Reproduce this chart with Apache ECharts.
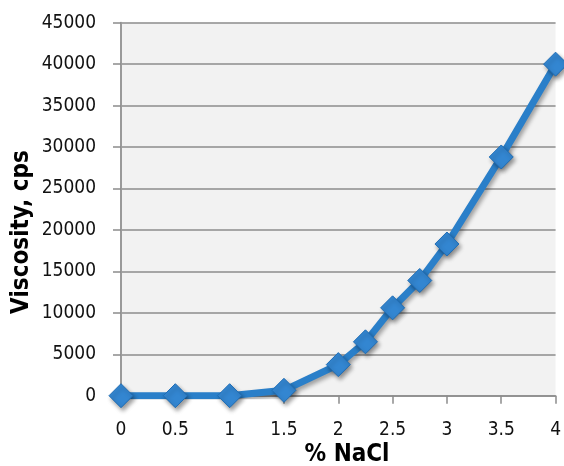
<!DOCTYPE html>
<html>
<head>
<meta charset="utf-8">
<script src="https://cdn.jsdelivr.net/npm/echarts@6/dist/echarts.min.js"></script>
<style>
html,body{margin:0;padding:0;background:#fff;}
#c{width:564px;height:466px;}
</style>
</head>
<body>
<div id="c"></div>
<script>
var naclPercent = [0, 0.5, 1, 1.5, 2, 2.25, 2.5, 2.75, 3, 3.5, 4];
var viscosity = [0, 0, 0, 650, 3750, 6500, 10600, 13900, 18300, 28800, 40000];
var xTitle = '% NaCl';
var yTitle = 'Viscosity, cps';

var FONT = '"DejaVu Sans Condensed", "Liberation Sans", sans-serif';
var points = naclPercent.map(function (x, i) { return [x, viscosity[i]]; });

var chart = echarts.init(document.getElementById('c'));
chart.setOption({
  animation: false,
  backgroundColor: '#ffffff',
  grid: {
    left: 121, right: 7.5, top: 22.7, bottom: 70.3,
    show: true, backgroundColor: '#f2f2f2', borderWidth: 0
  },
  xAxis: {
    type: 'value', min: 0, max: 4, interval: 0.5,
    axisLine: { show: true, lineStyle: { color: '#8c8c8c', width: 1.5 } },
    axisTick: { show: true, length: 8, lineStyle: { color: '#8c8c8c', width: 1.5 } },
    axisLabel: {
      margin: 25, color: '#111', fontFamily: FONT, fontSize: 19,
      formatter: function (v) { return String(v); }
    },
    splitLine: { show: false }
  },
  yAxis: {
    type: 'value', min: 0, max: 45000, interval: 5000,
    axisLine: { show: true, lineStyle: { color: '#9a9a9a', width: 2 } },
    axisTick: { show: true, length: 8, lineStyle: { color: '#8c8c8c', width: 1.5 } },
    axisLabel: {
      margin: 25, color: '#111', fontFamily: FONT, fontSize: 19,
      formatter: function (v) { return String(v); }
    },
    splitLine: { show: true, lineStyle: { color: '#8c8c8c', width: 1.5 } }
  },
  graphic: [
    {
      type: 'text', x: 22, y: 232, rotation: Math.PI / 2,
      style: {
        text: yTitle, fill: '#000', font: 'bold 24px ' + FONT,
        textAlign: 'center', textVerticalAlign: 'middle'
      }
    },
    {
      type: 'text', x: 347, y: 455,
      style: {
        text: xTitle, fill: '#000', font: 'bold 24px ' + FONT,
        textAlign: 'center', textVerticalAlign: 'middle'
      }
    }
  ],
  series: [{
    type: 'line',
    data: points,
    symbol: 'diamond',
    symbolSize: 24,
    lineStyle: {
      color: '#2a7fc9', width: 7,
      shadowColor: 'rgba(0,0,0,0.35)', shadowBlur: 4, shadowOffsetX: 2, shadowOffsetY: 3
    },
    itemStyle: {
      color: '#3386d1', borderColor: '#1f6db5', borderWidth: 1,
      shadowColor: 'rgba(0,0,0,0.4)', shadowBlur: 4, shadowOffsetX: 2, shadowOffsetY: 3
    }
  }]
});
</script>
</body>
</html>
